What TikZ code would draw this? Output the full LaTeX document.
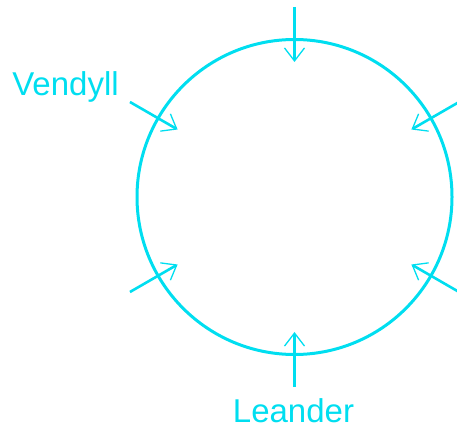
\documentclass[tikz,border=0pt]{standalone}
\usepackage{fontspec}
\setmainfont{Liberation Sans}
\usetikzlibrary{arrows.meta,calc}
\definecolor{cy}{RGB}{0,222,240}
\tikzset{
  ring/.style={circle, draw=cy, line width=3pt, minimum size=315pt, inner sep=0pt},
  inarrow/.style={draw=cy, line width=2.6pt, -{Straight Barb[length=13pt,width=20pt,line width=1.3pt]}},
  lbl/.style={text=cy, font=\fontsize{33}{38}\selectfont, anchor=base, inner sep=0pt}
}
\begin{document}
\begin{tikzpicture}[x=1pt,y=1pt]
\useasboundingbox (0,0) rectangle (457,433);
\node[ring] (c) at (294.5,236) {};
\foreach \a/\n in {90/t,150/ul,30/ur,210/ll,330/lr,270/b}{
  \coordinate (s\n) at ($(c)+(\a:190)$);
  \coordinate (e\n) at ($(c)+(\a:135)$);
  \draw[inarrow] (s\n) -- (e\n);
}
\node[lbl] (vendyll) at (65.5,337) {Vendyll};
\node[lbl] (leander) at (293.5,10) {Leander};
\end{tikzpicture}
\end{document}
